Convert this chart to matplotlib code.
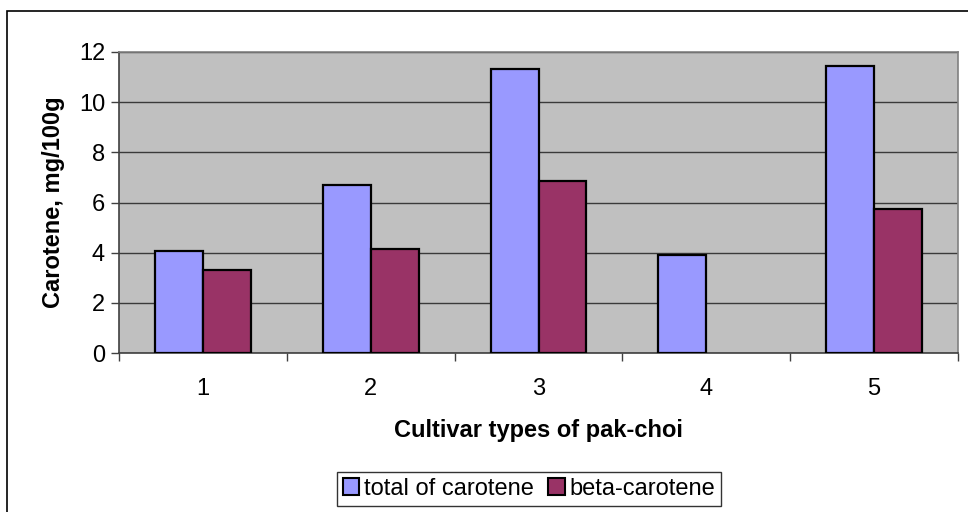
import matplotlib
matplotlib.use("Agg")
import matplotlib.pyplot as plt
import numpy as np
from matplotlib.patches import Rectangle, Patch

plt.rcParams['font.family'] = ['Liberation Sans', 'DejaVu Sans']

# Carotene content per cultivar
cultivars = ['1', '2', '3', '4', '5']
total_carotene = [4.07, 6.69, 11.31, 3.91, 11.43]
beta_carotene = [3.31, 4.16, 6.87, 0.0, 5.74]
series_names = ['total of carotene', 'beta-carotene']

blue = '#9999FF'
plum = '#993366'
fs = 17

fig = plt.figure(figsize=(9.68, 5.12), dpi=100)
W, H = 968, 512
ax = fig.add_axes([119 / W, (H - 353) / H, (958 - 119) / W, (353 - 52) / H])
ax.set_facecolor('#C0C0C0')

x = np.arange(len(cultivars))
w = 1 / 3.5
b1 = ax.bar(x - w / 2, total_carotene, w, color=blue, edgecolor='black', linewidth=1.6, zorder=3)
b2 = ax.bar(x + w / 2, beta_carotene, w, color=plum, edgecolor='black', linewidth=1.6, zorder=3)
# empty values leave no outline
for p in list(b1) + list(b2):
    if p.get_height() == 0:
        p.set_visible(False)

ax.set_xlim(-0.5, len(cultivars) - 0.5)
ax.set_ylim(0, 12)
ax.set_yticks(np.arange(0, 13, 2))
ax.yaxis.grid(True, color='#3a3a3a', linewidth=1.0, zorder=1)
ax.set_axisbelow(True)

ax.set_xticks(x)
ax.set_xticklabels(cultivars)
ax.set_xticks(np.arange(-0.5, len(cultivars)), minor=True)
ax.tick_params(axis='x', which='major', length=0, pad=18, labelsize=fs)
ax.tick_params(axis='x', which='minor', length=6, width=1, color='#404040', direction='out')
ax.tick_params(axis='y', length=6, width=1, color='#404040', direction='out', pad=4, labelsize=fs)

for side in ['left', 'bottom']:
    ax.spines[side].set_color('#404040')
    ax.spines[side].set_linewidth(1.2)
for side in ['top', 'right']:
    ax.spines[side].set_color('#808080')
    ax.spines[side].set_linewidth(1.2)

ax.set_ylabel('Carotene, mg/100g', fontsize=fs, fontweight='bold', labelpad=10)
ax.set_xlabel('Cultivar types of pak-choi', fontsize=fs, fontweight='bold', labelpad=14)

handles = [Patch(facecolor=blue, edgecolor='black', linewidth=1.5),
           Patch(facecolor=plum, edgecolor='black', linewidth=1.5)]
leg = fig.legend(handles, series_names, loc='center', bbox_to_anchor=(529 / W, (H - 489) / H),
                 ncol=2, fontsize=fs, frameon=True, fancybox=False, shadow=False,
                 handlelength=0.7, handleheight=0.7, handletextpad=0.2, columnspacing=0.6,
                 borderpad=0.25, borderaxespad=0)
leg.get_frame().set_edgecolor('black')
leg.get_frame().set_linewidth(1.0)

# chart area outline
fig.patches.append(Rectangle((7 / W, -0.1), 1.2, (H - 11) / H + 0.1, transform=fig.transFigure,
                             fill=False, edgecolor='black', linewidth=1.2))

fig.savefig('out.png', dpi=100)
